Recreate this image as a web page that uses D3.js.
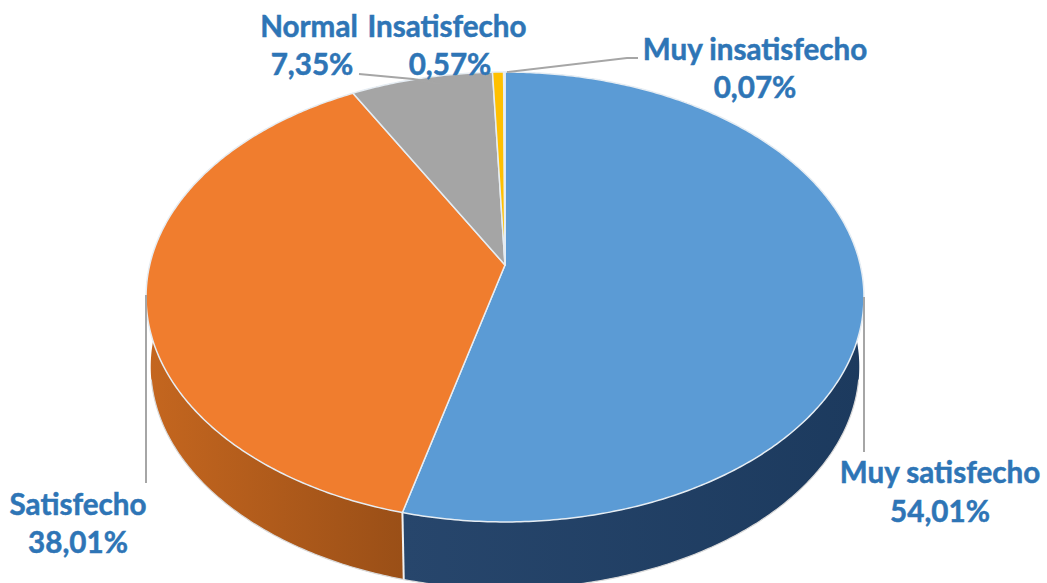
<!DOCTYPE html>
<html>
<head>
<meta charset="utf-8">
<script src="https://cdnjs.cloudflare.com/ajax/libs/d3/7.8.5/d3.min.js"></script>
<style>
html,body{margin:0;padding:0;background:#fff}
svg{display:block}
text{font-family:Lato,"Open Sans",sans-serif;font-weight:700;fill:#2E75B6;stroke:#2E75B6;stroke-width:0.5;text-anchor:middle}
</style>
</head>
<body>
<svg id="c" width="1047" height="583"></svg>
<script>
const categories = ["Muy satisfecho","Satisfecho","Normal","Insatisfecho","Muy insatisfecho"];
const values = [54.01,38.01,7.35,0.57,0.07];
const valueLabels = ["54,01%","38,01%","7,35%","0,57%","0,07%"];
const topColors = ["#5B9BD5","#F07D2E","#A5A5A5","#FFC000","#4472C4"];
const sideLight = ["#27466C","#C4661F","#636363","#997300","#264478"];
const sideDark  = ["#1C3A5E","#9A4F17","#636363","#997300","#264478"];

const W = 1047, H = 583;
const apex = {x:505, y:265};
const persp = {a:355.3, b:220.4, k:0.1422};
const depth = {dy:70.2, s:0.987};
const labelLayout = [
  {x:940, y1:483, y2:522},
  {x:78,  y1:515, y2:553},
  {x:309, y1:37,  y2:75},
  {x:447, y1:37,  y2:75},
  {x:755, y1:60,  y2:98}
];
const leaderPaths = [
  [[864,297],[864,452]],
  [[146,295],[146,483]],
  [[359,74],[413,79],[440,84]],
  [],
  [[638,58],[627,58],[507,72]]
];

const svg = d3.select("#c");
const defs = svg.append("defs");
const pie = d3.pie().sort(null).value(d=>d)(values);

function project(theta, lower){
  const u=Math.sin(theta), v=Math.cos(theta), w=1+persp.k*v;
  const X=persp.a*u/w, Y=persp.b*v/w;
  return lower ? [apex.x+depth.s*X, apex.y+depth.dy-depth.s*Y] : [apex.x+X, apex.y-Y];
}
function arcPts(a0,a1,lower){
  const n=Math.max(2,Math.ceil((a1-a0)/0.01));
  return d3.range(n+1).map(i=>project(a0+(a1-a0)*i/n,lower));
}
const line=d3.line();

const sides=svg.append("g");
const tops=svg.append("g");

pie.forEach((p,i)=>{
  const gid="sg"+i;
  const g=defs.append("linearGradient").attr("id",gid).attr("gradientUnits","userSpaceOnUse")
    .attr("x1",i===1?150:404).attr("x2",i===1?404:864).attr("y1",0).attr("y2",0);
  g.append("stop").attr("offset","0%").attr("stop-color",sideLight[i]);
  g.append("stop").attr("offset","100%").attr("stop-color",sideDark[i]);
  const upper=arcPts(p.startAngle,p.endAngle,false);
  const lower=arcPts(p.startAngle,p.endAngle,true).reverse();
  sides.append("path").attr("d",line(upper.concat(lower))+"Z")
    .attr("fill","url(#"+gid+")").attr("stroke","none");
});
sides.append("path").attr("d",line(arcPts(Math.PI/2+0.2,Math.PI*1.5-0.2,true)))
  .attr("fill","none").attr("stroke","#d9d9d9").attr("stroke-width",1.2);
const seam=pie[1].startAngle;
sides.append("path").attr("d",line([project(seam,false),project(seam,true)]))
  .attr("stroke","#f2f2f2").attr("stroke-width",2).attr("fill","none");

pie.forEach((p,i)=>{
  const pts=[[apex.x,apex.y]].concat(arcPts(p.startAngle,p.endAngle,false));
  tops.append("path").attr("d",line(pts)+"Z")
    .attr("fill",topColors[i]).attr("stroke","#e6edf3").attr("stroke-width",1.5).attr("stroke-linejoin","round");
});

const leaders=svg.append("g");
leaderPaths.forEach(pts=>{
  if(pts.length) leaders.append("path").attr("d",line(pts)).attr("fill","none")
    .attr("stroke","#A6A6A6").attr("stroke-width",2);
});

const labels=svg.append("g");
categories.forEach((c,i)=>{
  const l=labelLayout[i];
  labels.append("text").attr("x",l.x).attr("y",l.y1).attr("font-size",29.6).text(c);
  labels.append("text").attr("x",i===2?312:i===3?450:l.x).attr("y",l.y2).attr("font-size",29.6).text(valueLabels[i]);
});
</script>
</body>
</html>
